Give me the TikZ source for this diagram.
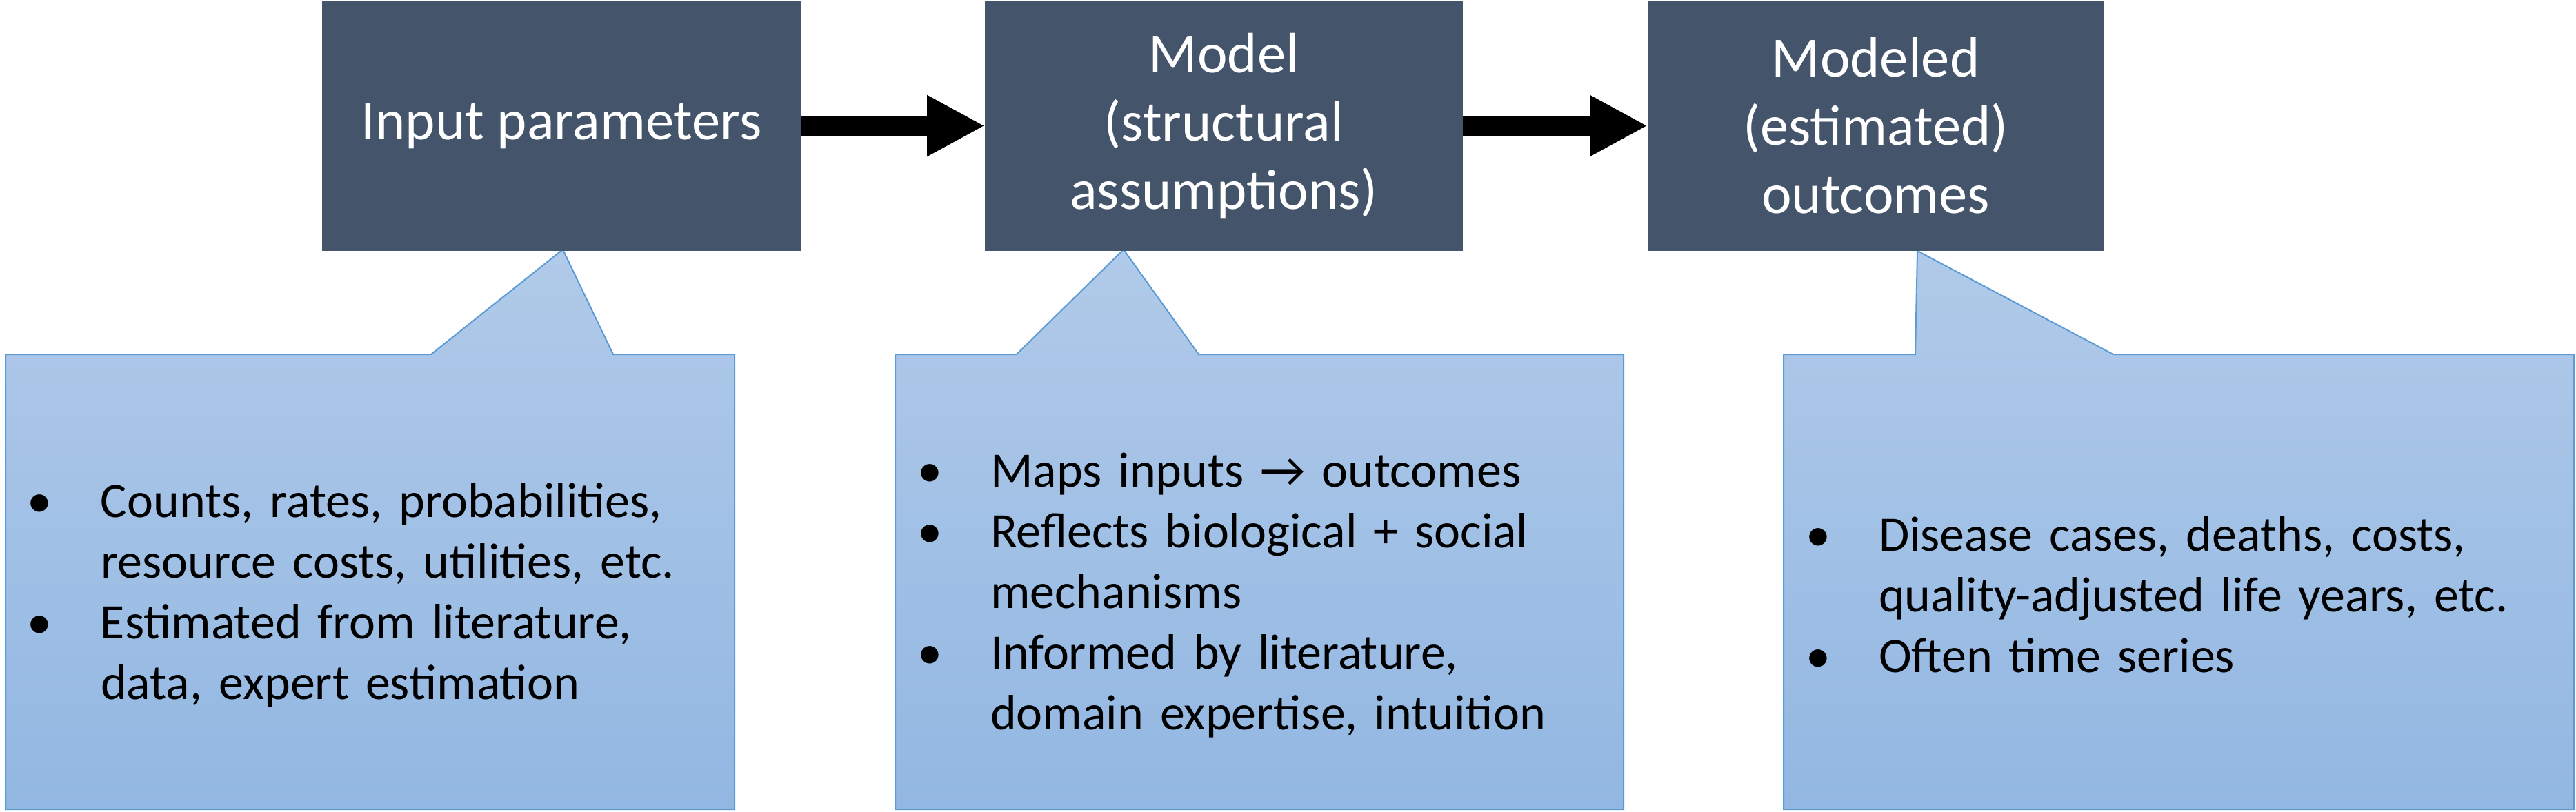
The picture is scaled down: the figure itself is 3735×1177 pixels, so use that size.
\documentclass[tikz,border=0pt]{standalone}
\usepackage{fontspec}
\setmainfont{Carlito}
\usetikzlibrary{arrows.meta,positioning}
\definecolor{D1}{RGB}{68,84,106}
\definecolor{B1}{RGB}{91,155,213}
\definecolor{T1}{RGB}{177,202,233}
\definecolor{T2}{RGB}{146,183,226}
\newcommand\bitem{\par\noindent\hangindent=18.6pt\hangafter=1\makebox[18.6pt][l]{\hspace{-2.6pt}\textbullet}}

\begin{document}
\begin{tikzpicture}[x=0.2pt,y=0.2pt,
    hd/.style={fill=D1,text=white,font=\fontsize{16.5}{19.8}\selectfont,align=center,
      inner sep=0,outer sep=0,minimum height=72.6pt},
    co/.style={draw=B1,line width=0.4pt,top color=T1,bottom color=T2},
    note/.style={font=\fontsize{14.4}{17.6}\selectfont,text width=210pt,
      inner sep=0,anchor=west},
    ar/.style={line width=5.8pt,-{Triangle[width=16.6pt,length=16.8pt]}}]
      \useasboundingbox (0,0) rectangle (3735,1177);
      \coordinate (t1) at (816,815);
      \coordinate (t2) at (1629,815);
      \coordinate (t3) at (2780,813);
      \draw[co] (8,663) -- (625,663) -- (t1) -- (889,663) -- (1065,663) -- (1065,3) -- (8,3) -- cycle;
      \draw[co] (1298,663) -- (1474,663) -- (t2) -- (1738,663) -- (2354,663) -- (2354,3) -- (1298,3) -- cycle;
      \draw[co] (2586,663) -- (2777,663) -- (t3) -- (3064,663) -- (3732,663) -- (3732,3) -- (2586,3) -- cycle;
      \node[hd,minimum width=138.8pt] (inp) at (814,994.5) {Input parameters};
      \node[hd,minimum width=138.6pt] (mod) at (1774.5,994.5) {Model\\(structural\\assumptions)};
      \node[hd,minimum width=132.2pt] (out) at (2719.5,994.5) {Modeled\\(estimated)\\outcomes};
      \draw[ar] (inp.east) -- (mod.west);
      \draw[ar] (mod.east) -- (out.west);
      \node[note] (n1) at (52,333) {\raggedright\bitem Counts, rates, probabilities,\newline resource costs, utilities, etc.\bitem Estimated from literature,\newline data, expert estimation\par};
      \node[note] (n2) at (1342,333) {\raggedright\bitem Maps inputs → outcomes\bitem Reflects biological + social\newline mechanisms\bitem Informed by literature,\newline domain expertise, intuition\par};
      \node[note] (n3) at (2630,333) {\raggedright\bitem Disease cases, deaths, costs,\newline quality-adjusted life years, etc.\bitem Often time series\par};
    \end{tikzpicture}
\end{document}
